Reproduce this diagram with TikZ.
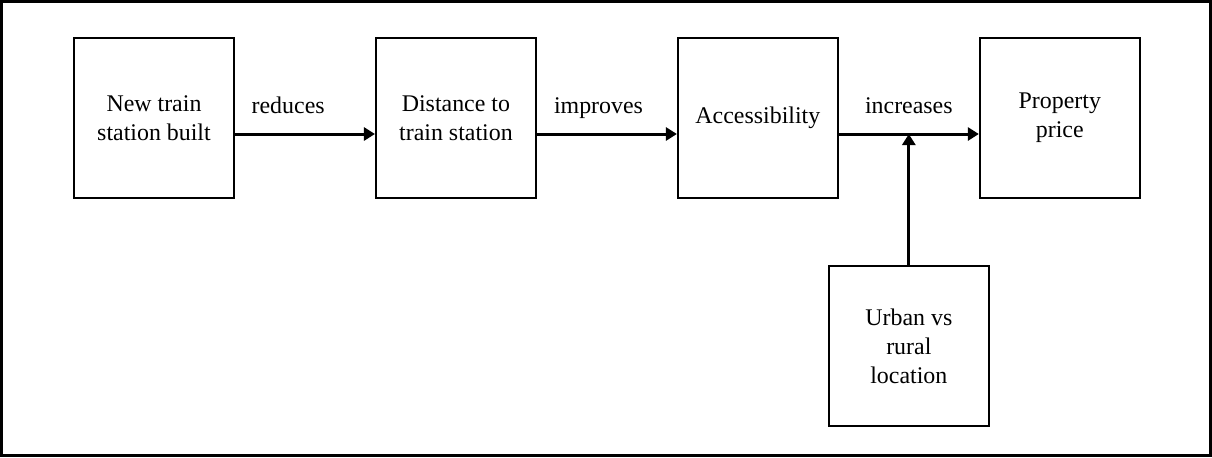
\documentclass[tikz,border=0pt]{standalone}
\usepackage{fontspec}
\setmainfont{Liberation Serif}
\usetikzlibrary{arrows.meta,calc,positioning}

\begin{document}
\begin{tikzpicture}[->,>={Triangle[length=0.22cm,width=0.26cm]},line width=1.7pt,
  node distance=2.8cm,
  block/.style={draw,line width=1.1pt,minimum width=3.2cm,minimum height=3.2cm,
    align=center,font=\fontsize{13.6}{16.5}\selectfont},
  lbl/.style={draw=none,anchor=base,yshift=0.42cm,font=\fontsize{13.6}{16.5}\selectfont}]
  \useasboundingbox (0,0) rectangle (24.24,-9.14);
  \draw[-,line width=1.4pt] (0.03,-0.03) rectangle (24.21,-9.11);
  \node[block] (new) at (3.08,-2.36) {New train\\station built};
  \node[block] (dist) [right=of new] {Distance to\\train station};
  \node[block] (acc) [right=of dist] {Accessibility};
  \node[block] (price) [right=of acc] {Property\\price};
  \coordinate (join) at ($([yshift=-0.32cm]acc.east)!0.5!([yshift=-0.32cm]price.west)$);
  \node[block] (loc) [below=2.62cm of join] {Urban vs\\rural\\location};
\path ([yshift=-0.32cm]new.east) edge node[lbl,pos=0.38] {reduces} ([yshift=-0.32cm]dist.west)
  ([yshift=-0.32cm]dist.east) edge node[lbl,pos=0.44] {improves} ([yshift=-0.32cm]acc.west)
  ([yshift=-0.32cm]acc.east) edge node[lbl,pos=0.5] {increases} ([yshift=-0.32cm]price.west)
  (loc.north) edge (join);
\end{tikzpicture}
\end{document}
